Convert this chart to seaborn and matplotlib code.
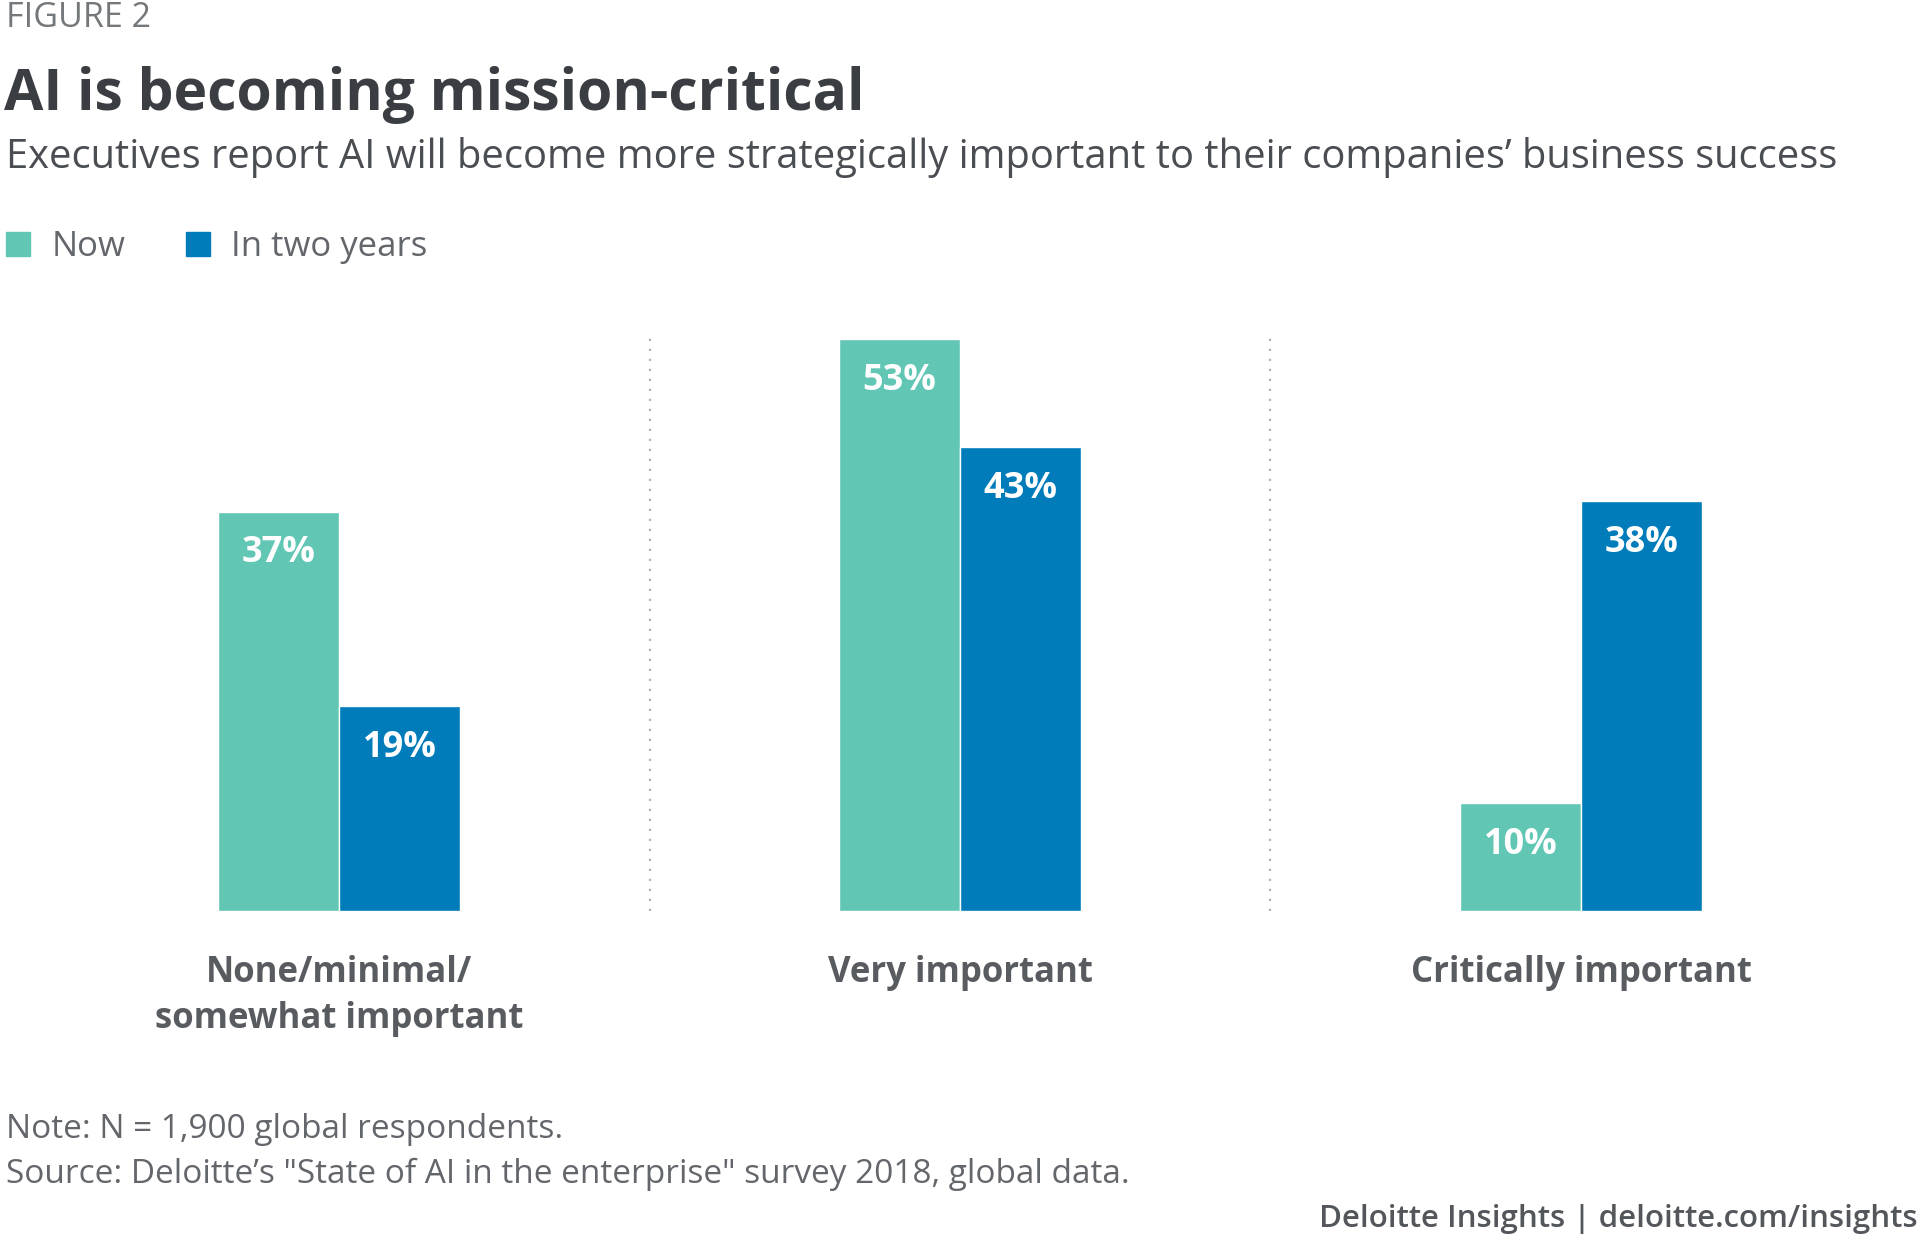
import matplotlib
matplotlib.use('Agg')
import matplotlib.pyplot as plt
import pandas as pd
import seaborn as sn

# data
categories = ['None/minimal/\nsomewhat important', 'Very important', 'Critically important']
periods = ['Now', 'In two years']
now_values = [37, 53, 10]
two_year_values = [19, 43, 38]
colors = ['#62C6B4', '#007CBA']

df = pd.DataFrame({
    'category': categories * 2,
    'period': [periods[0]] * 3 + [periods[1]] * 3,
    'value': now_values + two_year_values,
})

sn.set_style('white')
plt.rcParams['font.family'] = ['Open Sans', 'DejaVu Sans']

W, H = 1920, 1249
fig = plt.figure(figsize=(W / 100, H / 100), dpi=100)


def fy(px):
    # pixel from top -> figure fraction
    return 1 - px / H


ax = fig.add_axes([0, fy(911), 1, 647.4 / H])
sn.barplot(data=df, x='category', y='value', hue='period', palette=colors,
           width=0.39, gap=0, saturation=1, ax=ax, legend=False)
ax.set_xlim(-0.5459, 2.5459)
ax.set_ylim(0, 60)
for s in ax.spines.values():
    s.set_visible(False)
ax.set_yticks([])
ax.set_xlabel('')
ax.set_ylabel('')
ax.tick_params(axis='x', length=0, pad=32)
ax.set_xticks(range(len(categories)))
ax.set_xticklabels(categories, fontsize=25, fontweight='bold',
                   color='#585B5F', linespacing=1.36, va='top')

# dotted separators between groups
ax.vlines([0.5, 1.5], 0, 53.6, colors='#B0B2B4', linewidth=1.6, linestyles=(0, (1, 3.5)))

# value labels inside the bar tops
for cont in ax.containers:
    for bar in cont:
        h = bar.get_height()
        ax.annotate(f'{h:.0f}%', (bar.get_x() + bar.get_width() / 2, h),
                    xytext=(0, -30), textcoords='offset points',
                    ha='center', va='center', color='white',
                    fontsize=26, fontweight='bold')

# legend
handles = [plt.Rectangle((0, 0), 1, 1, color=c) for c in colors]
fig.legend(handles, periods, loc='center left', bbox_to_anchor=(6 / W, fy(247)),
           ncol=2, frameon=False, fontsize=25, labelcolor='#63666A',
           handlelength=0.7, handleheight=0.7, handletextpad=0.6,
           columnspacing=1.75, borderpad=0, borderaxespad=0)

# titles
fig.text(6 / W, fy(18), 'FIGURE 2', fontsize=24.5, color='#75787B', va='center', ha='left')
fig.text(4 / W, fy(95), 'AI is becoming mission-critical', fontsize=41,
         fontweight='bold', color='#3A3D41', va='center', ha='left')
fig.text(6 / W, fy(158), 'Executives report AI will become more strategically important '
         'to their companies\u2019 business success', fontsize=28.7, color='#4A4D51',
         va='center', ha='left')

# notes
fig.text(6 / W, fy(1129), 'Note: N = 1,900 global respondents.', fontsize=24,
         color='#63666A', va='center', ha='left')
fig.text(6 / W, fy(1174), 'Source: Deloitte\u2019s "State of AI in the enterprise" survey 2018, global data.',
         fontsize=24, color='#63666A', va='center', ha='left')
fig.text(1918 / W, fy(1219), 'Deloitte Insights | deloitte.com/insights', fontsize=22.5,
         fontweight='semibold', color='#53565A', va='center', ha='right')

plt.savefig('out.png', dpi=100, facecolor='white')
